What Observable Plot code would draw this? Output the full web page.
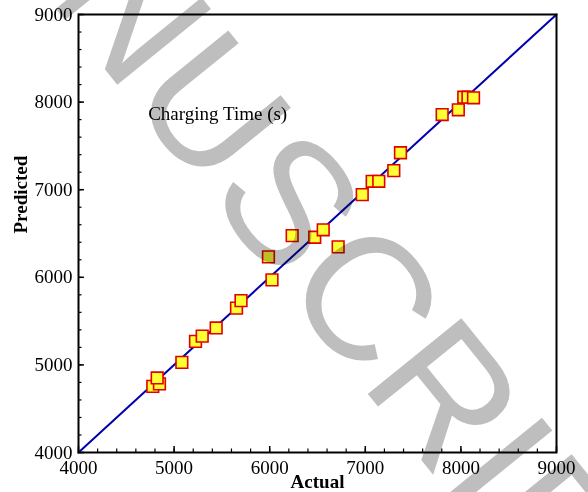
<!DOCTYPE html>
<html>
<head>
<meta charset="utf-8">
<script src="https://cdn.jsdelivr.net/npm/d3@7"></script>
<script src="https://cdn.jsdelivr.net/npm/@observablehq/plot@0.6"></script>
<style>
  html, body { margin: 0; padding: 0; background: #fff; }
</style>
</head>
<body>
<div id="chart"></div>
<script>
// Actual vs predicted charging time (s)
const actual    = [4777, 4847, 4823, 5081, 5224, 5294, 5440, 5653, 5700, 5987, 6024, 6235, 6471, 6560, 6716, 6968, 7072, 7141, 7298, 7368, 7804, 7973, 8030, 8074, 8132];
const predicted = [4755, 4783, 4851, 5029, 5269, 5328, 5422, 5648, 5734, 6233, 5971, 6476, 6457, 6542, 6347, 6944, 7096, 7096, 7218, 7422, 7858, 7912, 8056, 8056, 8049];

// Ideal line (y = x)
const idealLine = [4000, 9000];

const majorTicks = [4000, 5000, 6000, 7000, 8000, 9000];
const minorTicks = d3.range(4000, 9001, 200);

const chartTitle = ["Charging Time (s)"];
const xTitle = ["Actual"];
const yTitle = ["Predicted"];
const watermark = ["MANUSCRIPT"];

const points = actual.map((a, i) => ({actual: a, predicted: predicted[i]}));
const line = idealLine.map(v => ({actual: v, predicted: v}));

const serif = "'Liberation Serif', 'Times New Roman', serif";

const chart = Plot.plot({
  width: 588,
  height: 492,
  marginLeft: 78,
  marginRight: 32,
  marginTop: 14,
  marginBottom: 40,
  style: {fontFamily: serif, fontSize: "19px", color: "#000", background: "#fff"},
  x: {domain: [4000, 9000]},
  y: {domain: [4000, 9000]},
  axis: null,
  marks: [
    // minor ticks (inward)
    Plot.axisX(minorTicks, {anchor: "bottom", tickSize: -3.5, text: null, label: null, strokeWidth: 1.2}),
    Plot.axisY(minorTicks, {anchor: "left", tickSize: -3.5, text: null, label: null, strokeWidth: 1.2}),
    // major ticks + labels
    Plot.axisX(majorTicks, {anchor: "bottom", tickSize: -6, tickPadding: 14, label: null, strokeWidth: 1.5, tickFormat: d => String(d)}),
    Plot.axisY(majorTicks, {anchor: "left", tickSize: -6, tickPadding: 12, label: null, strokeWidth: 1.5, tickFormat: d => String(d)}),
    Plot.line(line, {x: "actual", y: "predicted", stroke: "#0000b0", strokeWidth: 2}),
    Plot.dot(points, {x: "actual", y: "predicted", symbol: "square", r: 6.6, fill: "#ffff33", stroke: "#e00000", strokeWidth: 1.6}),
    Plot.text(chartTitle, {x: 4729, y: 7869, textAnchor: "start", lineAnchor: "middle", fontSize: 19, fill: "#000"}),
    Plot.frame({stroke: "#000", strokeWidth: 2}),
    Plot.text(xTitle, {frameAnchor: "bottom", dy: 29, lineAnchor: "middle", fontWeight: "bold", fontSize: 19, fill: "#000"}),
    Plot.text(yTitle, {frameAnchor: "left", dx: -58, rotate: -90, lineAnchor: "middle", fontWeight: "bold", fontSize: 19, fill: "#000"}),
    // watermark
    Plot.text(watermark, {
      frameAnchor: "top-left", dx: -197, dy: -221, rotate: 51,
      textAnchor: "start", lineAnchor: "bottom",
      fontFamily: "'Liberation Sans', Arial, sans-serif", fontSize: 175,
      fill: "#bebebe", mixBlendMode: "multiply"
    })
  ]
});

document.getElementById("chart").appendChild(chart);
</script>
</body>
</html>
